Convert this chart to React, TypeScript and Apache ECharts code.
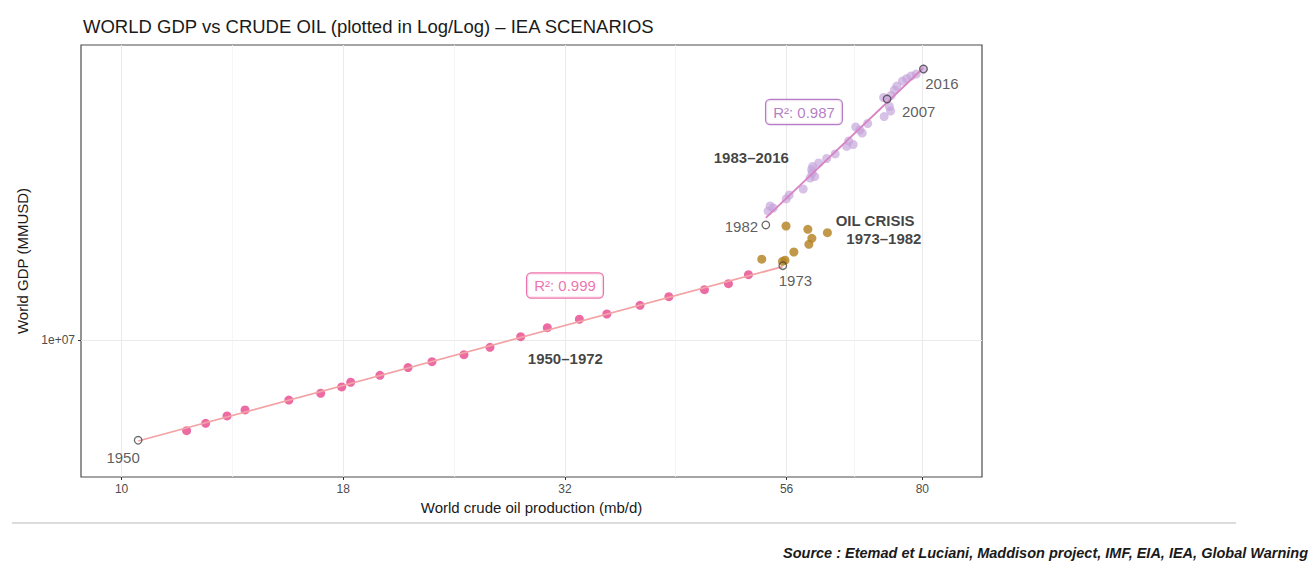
import React, { useEffect, useRef } from "react";
import * as echarts from "echarts";

// ---- Axis ticks ----
const xTickValues = [10, 17.78, 31.62, 56.23, 80];
const xTickLabels = ["10", "18", "32", "56", "80"];
const yTickValues = [1e7];
const yTickLabels = ["1e+07"];
const xDomain = [9.0, 93.4];
const yDomain = [4.233e6, 6.366e7];

// ---- 1951-1972 (pink) ----
const pinkYears = [1951, 1952, 1953, 1954, 1955, 1956, 1957, 1958, 1959, 1960, 1961, 1962, 1963, 1964, 1965, 1966, 1967, 1968, 1969, 1970, 1971, 1972];
const pinkOil = [11.84, 12.44, 13.15, 13.78, 15.44, 16.77, 17.71, 18.13, 19.56, 21.04, 22.39, 24.33, 26.03, 28.19, 30.21, 32.83, 35.26, 38.43, 41.42, 45.43, 48.35, 50.93];
const pinkGdp = [5.66e6, 5.93e6, 6.21e6, 6.45e6, 6.86e6, 7.16e6, 7.45e6, 7.67e6, 8.01e6, 8.41e6, 8.73e6, 9.12e6, 9.55e6, 10.21e6, 10.80e6, 11.39e6, 11.77e6, 12.43e6, 13.12e6, 13.71e6, 14.24e6, 15.07e6];

// ---- 1973-1981 oil crisis (brown) ----
const brownYears = [1973, 1974, 1975, 1976, 1977, 1978, 1979, 1980, 1981];
const brownOil = [55.63, 56.0, 52.72, 57.3, 59.58, 60.04, 62.52, 59.42, 56.15];
const brownGdp = [16.37e6, 16.5e6, 16.6e6, 17.37e6, 18.23e6, 18.93e6, 19.61e6, 20.03e6, 20.45e6];

// ---- 1983-2016 (purple) ----
const purpleYears = [1983, 1984, 1985, 1986, 1987, 1988, 1989, 1990, 1991, 1992, 1993, 1994, 1995, 1996, 1997, 1998, 1999, 2000, 2001, 2002, 2003, 2004, 2005, 2006, 2007, 2008, 2009, 2010, 2011, 2012, 2013, 2014, 2015, 2016];
const purpleOil = [53.6, 54.3, 53.88, 56.17, 56.61, 58.71, 59.78, 60.49, 60.09, 60.02, 60.17, 61.12, 62.4, 63.79, 65.73, 66.84, 66.07, 68.43, 67.99, 67.28, 69.41, 72.44, 73.67, 73.44, 73.0, 73.76, 72.34, 74.4, 74.87, 75.97, 76.8, 77.71, 78.72, 80.23];
const purpleGdp = [22.46e6, 22.89e6, 23.18e6, 24.23e6, 24.84e6, 25.79e6, 27.63e6, 27.89e6, 28.51e6, 29.14e6, 29.7e6, 30.36e6, 31.23e6, 32.13e6, 33.68e6, 34.1e6, 34.86e6, 36.65e6, 37.35e6, 38.06e6, 38.9e6, 40.64e6, 42.07e6, 43.28e6, 45.36e6, 46.37e6, 45.79e6, 48.0e6, 49.21e6, 50.78e6, 51.58e6, 52.4e6, 53.06e6, 54.75e6];

// ---- highlighted years (open circles) ----
const markedYears = ["1950", "1973", "1982", "2007", "2016"];
const markedOil = [10.44, 55.68, 53.28, 73.0, 80.23];
const markedGdp = [5.33e6, 15.94e6, 20.58e6, 45.36e6, 54.75e6];

// ---- annotation texts (positions in data units) ----
const yearLabelText = ["1950", "1973", "1982", "2007", "2016"];
const yearLabelOil = [10.04, 57.54, 50.01, 79.23, 84.17];
const yearLabelGdp = [4.77e6, 14.55e6, 20.41e6, 41.89e6, 50.05e6];

const periodLabelText = ["1950–1972", "OIL CRISIS", "1973–1982", "1983–2016"];
const periodLabelOil = [31.66, 70.77, 72.4, 51.31];
const periodLabelGdp = [8.894e6, 21.2e6, 18.93e6, 31.43e6];

const r2Text = ["R²: 0.999", "R²: 0.987"];
const r2Oil = [31.63, 58.83];
const r2Gdp = [14.08e6, 41.81e6];

const FONT = "'Liberation Sans', Arial, Helvetica, sans-serif";
const L = (v: number) => Math.log10(v);
const pts = (xs: number[], ys: number[]) => xs.map((x, i) => [L(x), L(ys[i])]);

function fitLine(xs: number[], ys: number[], x0: number, x1: number) {
  const lx = xs.map(L);
  const ly = ys.map(L);
  const n = lx.length;
  const mx = lx.reduce((a, b) => a + b, 0) / n;
  const my = ly.reduce((a, b) => a + b, 0) / n;
  let sxy = 0;
  let sxx = 0;
  for (let i = 0; i < n; i++) {
    sxy += (lx[i] - mx) * (ly[i] - my);
    sxx += (lx[i] - mx) * (lx[i] - mx);
  }
  const b = sxy / sxx;
  const a = my - b * mx;
  return [
    [L(x0), a + b * L(x0)],
    [L(x1), a + b * L(x1)],
  ];
}

export default function App() {
  const ref = useRef<HTMLDivElement>(null);

  useEffect(() => {
    document.body.style.margin = "0";
    if (!ref.current) return;
    const chart = echarts.init(ref.current, undefined, { renderer: "svg" });

    const xMajor = xTickValues.map(L);
    const xMinor: number[] = [];
    for (let i = 0; i < xMajor.length - 1; i++) xMinor.push((xMajor[i] + xMajor[i + 1]) / 2);

    const pinkFit = fitLine([markedOil[0], ...pinkOil], [markedGdp[0], ...pinkGdp], markedOil[0], markedOil[1]);
    const purpleFit = fitLine([markedOil[2], ...purpleOil], [markedGdp[2], ...purpleGdp], markedOil[2], markedOil[4]);

    const option: any = {
      animation: false,
      backgroundColor: "#ffffff",
      title: {
        text: "WORLD GDP vs CRUDE OIL (plotted in Log/Log) – IEA SCENARIOS",
        left: 78,
        top: 12,
        textStyle: { fontFamily: FONT, fontSize: 18.5, fontWeight: "normal", color: "#1a1a1a" },
      },
      grid: {
        left: 81,
        top: 45,
        width: 901,
        height: 432,
        show: true,
        borderColor: "#4d4d4d",
        borderWidth: 1.2,
        backgroundColor: "transparent",
        containLabel: false,
        outerBoundsMode: "none",
      },
      xAxis: [
        {
          type: "value",
          min: L(xDomain[0]),
          max: L(xDomain[1]),
          axisLine: { show: false },
          axisTick: { show: true, customValues: xMajor, length: 3, lineStyle: { color: "#333", width: 1 } },
          axisLabel: {
            customValues: xMajor,
            formatter: (v: number) => {
              const i = xMajor.findIndex((m) => Math.abs(m - v) < 1e-6);
              return i >= 0 ? xTickLabels[i] : "";
            },
            color: "#4d4d4d",
            fontFamily: FONT,
            fontSize: 12,
            margin: 6,
          },
          splitLine: { show: true, lineStyle: { color: "#ebebeb", width: 1.1 } },
          name: "World crude oil production (mb/d)",
          nameLocation: "middle",
          nameGap: 22,
          nameTextStyle: { fontFamily: FONT, fontSize: 15, color: "#1a1a1a" },
        },
        {
          type: "value",
          min: L(xDomain[0]),
          max: L(xDomain[1]),
          position: "bottom",
          axisLine: { show: false },
          axisTick: { show: false, customValues: xMinor },
          axisLabel: { show: false },
          splitLine: { show: true, lineStyle: { color: "#f3f3f3", width: 0.8 } },
        },
      ],
      yAxis: [
        {
          type: "value",
          min: L(yDomain[0]),
          max: L(yDomain[1]),
          axisLine: { show: false },
          axisTick: { show: true, customValues: yTickValues.map(L), length: 3, lineStyle: { color: "#333", width: 1 } },
          axisLabel: {
            customValues: yTickValues.map(L),
            formatter: (v: number) => {
              const i = yTickValues.findIndex((m) => Math.abs(L(m) - v) < 1e-6);
              return i >= 0 ? yTickLabels[i] : "";
            },
            color: "#4d4d4d",
            fontFamily: FONT,
            fontSize: 12,
            margin: 6,
          },
          splitLine: { show: true, lineStyle: { color: "#ebebeb", width: 1.1 } },
          name: "World GDP (MMUSD)",
          nameLocation: "middle",
          nameGap: 51,
          nameTextStyle: { fontFamily: FONT, fontSize: 15, color: "#1a1a1a" },
        },
      ],
      series: [
        {
          name: "1950-1972",
          type: "scatter",
          z: 2,
          symbolSize: 9,
          itemStyle: { color: "#e8468c" },
          data: pts(pinkOil, pinkGdp),
        },
        {
          name: "1973-1982",
          type: "scatter",
          z: 2,
          symbolSize: 9,
          itemStyle: { color: "#b3801e" },
          data: pts(brownOil, brownGdp),
        },
        {
          name: "1983-2016",
          type: "scatter",
          z: 2,
          symbolSize: 9,
          itemStyle: { color: "rgba(196,164,218,0.85)" },
          data: pts(purpleOil, purpleGdp),
        },
        {
          name: "fit 1950-1972",
          type: "line",
          z: 3,
          symbol: "none",
          lineStyle: { color: "#f2a3a6", width: 1.8 },
          data: pinkFit,
        },
        {
          name: "fit 1983-2016",
          type: "line",
          z: 3,
          symbol: "none",
          lineStyle: { color: "#d883c5", width: 1.8 },
          data: purpleFit,
        },
        {
          name: "marked",
          type: "scatter",
          z: 4,
          symbolSize: 7.5,
          itemStyle: { color: "rgba(255,255,255,0)", borderColor: "#444", borderWidth: 1.3 },
          data: markedYears.map((y, i) => ({ name: y, value: [L(markedOil[i]), L(markedGdp[i])] })),
        },
        {
          name: "year labels",
          type: "scatter",
          z: 5,
          symbolSize: 1,
          itemStyle: { color: "rgba(0,0,0,0)" },
          silent: true,
          label: {
            show: true,
            position: "inside",
            formatter: "{b}",
            fontFamily: FONT,
            fontSize: 15,
            color: "#333333",
          },
          data: yearLabelText.map((t, i) => ({ name: t, value: [L(yearLabelOil[i]), L(yearLabelGdp[i])] })),
        },
        {
          name: "period labels",
          type: "scatter",
          z: 5,
          symbolSize: 1,
          itemStyle: { color: "rgba(0,0,0,0)" },
          silent: true,
          label: {
            show: true,
            position: "inside",
            formatter: "{b}",
            fontFamily: FONT,
            fontSize: 15,
            fontWeight: "bold",
            color: "#111111",
          },
          data: periodLabelText.map((t, i) => ({ name: t, value: [L(periodLabelOil[i]), L(periodLabelGdp[i])] })),
        },
        {
          name: "r2 labels",
          type: "scatter",
          z: 6,
          symbolSize: 1,
          itemStyle: { color: "rgba(0,0,0,0)" },
          silent: true,
          data: r2Text.map((t, i) => {
            const c = i === 0 ? "#e8509a" : "#a45cb8";
            return {
              name: t,
              value: [L(r2Oil[i]), L(r2Gdp[i])],
              label: {
                show: true,
                position: "inside",
                formatter: "{b}",
                fontFamily: FONT,
                fontSize: 15,
                color: c,
                backgroundColor: "#ffffff",
                borderColor: c,
                borderWidth: 1.2,
                borderRadius: 4,
                padding: [5, 7, 4, 7],
              },
            };
          }),
        },
      ],
      graphic: [
        {
          type: "line",
          silent: true,
          shape: { x1: 12, y1: 523, x2: 1236, y2: 523 },
          style: { stroke: "#d0d0d0", lineWidth: 1.5 },
        },
        {
          type: "text",
          silent: true,
          x: 783,
          y: 553,
          style: {
            text: "Source : Etemad et Luciani, Maddison project, IMF, EIA, IEA, Global Warning",
            font: "italic bold 14.5px 'Liberation Sans', Arial, sans-serif",
            fill: "#1a1a1a",
            textVerticalAlign: "middle",
            verticalAlign: "middle",
          },
        },
      ],
    };

    chart.setOption(option);
    return () => chart.dispose();
  }, []);

  return <div ref={ref} style={{ width: 1314, height: 561 }} />;
}
